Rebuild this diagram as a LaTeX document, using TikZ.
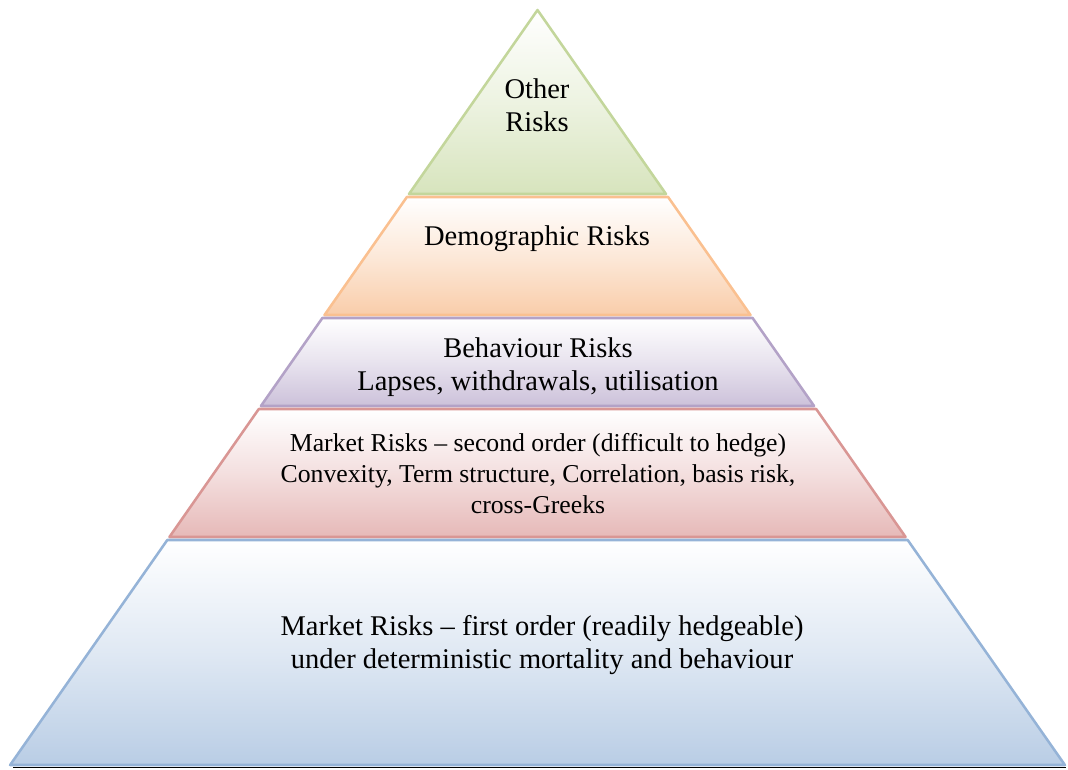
\documentclass[tikz,border=0pt]{standalone}
\usepackage{fontspec}
\setmainfont{Liberation Serif}
\definecolor{gfill}{HTML}{D7E4BD}\definecolor{gline}{HTML}{C3D69B}
\definecolor{ofill}{HTML}{F9CDAA}\definecolor{oline}{HTML}{FAC090}
\definecolor{pfill}{HTML}{CCC1DA}\definecolor{pline}{HTML}{B3A2C7}
\definecolor{rfill}{HTML}{E6B9B8}\definecolor{rline}{HTML}{D99694}
\definecolor{bfill}{HTML}{B9CDE5}\definecolor{bline}{HTML}{95B3D7}
\definecolor{baseline}{HTML}{4F5F78}
\tikzset{
  tier/.style n args={2}{draw=#2, line width=1.9pt, line join=round, top color=white, bottom color=#1, middle color=#1!45!white},
  lbl/.style={align=center, text=black, inner sep=0pt},
  big/.style={font=\fontsize{21.4pt}{24.6pt}\selectfont},
  mid/.style={font=\fontsize{19.3pt}{23.2pt}\selectfont},
}
\begin{document}
\begin{tikzpicture}[x=0.75pt,y=-0.75pt]
\useasboundingbox (0,0) rectangle (1068,769);
\draw[tier={gfill}{gline}] (537.5,10) -- (666.0,194) -- (409.0,194) -- cycle;
\draw[tier={ofill}{oline}] (406.9,197) -- (668.1,197) -- (750.5,315) -- (324.5,315) -- cycle;
\draw[tier={pfill}{pline}] (322.4,318) -- (752.6,318) -- (814.1,406) -- (260.9,406) -- cycle;
\draw[tier={rfill}{rline}] (258.8,409) -- (816.2,409) -- (905.6,537) -- (169.4,537) -- cycle;
\draw[tier={bfill}{bline}] (167.3,540) -- (907.7,540) -- (1064.9,765) -- (10.1,765) -- cycle;
\draw[baseline, line width=0.9pt] (13,767.5) -- (1066,767.5);
\node[lbl,big] (other) at (537,105) {Other\\Risks};
\node[lbl,big] (demo) at (537,239) {Demographic Risks};
\node[lbl,big] (behav) at (538,367.5) {Behaviour Risks\\Lapses, withdrawals, utilisation};
\node[lbl,mid] (mkt2) at (538,473.5) {Market Risks -- second order (difficult to hedge)\\Convexity, Term structure, Correlation, basis risk,\\cross-Greeks};
\node[lbl,big] (mkt1) at (542,645) {Market Risks -- first order (readily hedgeable)\\under deterministic mortality and behaviour};
\end{tikzpicture}
\end{document}
